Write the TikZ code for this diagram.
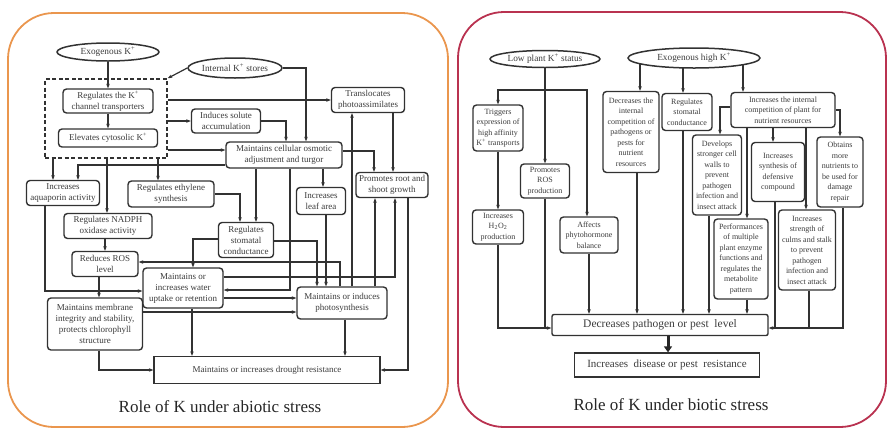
\documentclass[tikz,border=0pt]{standalone}
\usepackage{fontspec}
\setmainfont{Liberation Serif}
\usetikzlibrary{arrows.meta,backgrounds,shapes.geometric}
\definecolor{lc}{RGB}{50,50,50}
\definecolor{tc}{RGB}{60,60,60}
\definecolor{orangeframe}{RGB}{234,150,78}
\definecolor{redframe}{RGB}{185,50,80}
\newcommand{\Kp}{K\textsuperscript{+}}
\begin{document}
\begin{tikzpicture}[x=1pt,y=-1pt,
  bx/.style={draw=lc, line width=1.4pt, rounded corners=3.5pt, fill=white, align=center, inner sep=1pt, text=tc},
  lf/.style={font=\fontsize{9}{11}\selectfont},
  rf/.style={font=\fontsize{8}{10.5}\selectfont},
  ell/.style={ellipse, draw=lc, line width=1.5pt, fill=white, inner sep=0pt, text=tc, font=\fontsize{9.3}{11}\selectfont},
  sq/.style={draw=lc, line width=1.3pt, fill=white, align=center, inner sep=1pt, text=tc},
  arr/.style={draw=lc, line width=1.2pt, -{Stealth[length=4.5pt,width=3.5pt]}},
  ln/.style={draw=lc, line width=1.2pt},
  frame/.style={line width=1.8pt, rounded corners=46pt},
  ttl/.style={font=\fontsize{17}{20}\selectfont, text=black!85}
]
\useasboundingbox (0,0) rectangle (889,432);

% ---------- left panel nodes ----------
\node[ell, minimum width=102pt, minimum height=18pt] (exo) at (108,52) {Exogenous \Kp};
\node[ell, minimum width=94pt, minimum height=20pt] (int) at (235,68) {Internal \Kp{} stores};
\node[draw=lc, line width=1.5pt, dash pattern=on 4pt off 2.5pt, minimum width=122pt, minimum height=79pt, inner sep=0pt] (grp) at (106,118.5) {};
\node[bx,lf,minimum width=90pt,minimum height=24pt] (regk) at (108,101) {Regulates the \Kp\\channel transporters};
\node[bx,lf,minimum width=99pt,minimum height=18pt] (elev) at (108,138) {Elevates cytosolic \Kp};
\node[bx,lf,minimum width=73pt,minimum height=25pt] (trans) at (368,100) {Translocates\\photoassimilates};
\node[bx,lf,minimum width=69pt,minimum height=24pt] (ind) at (226,121) {Induces solute\\accumulation};
\node[bx,lf,minimum width=116pt,minimum height=26pt] (osm) at (284,155) {Maintains cellular osmotic\\adjustment and turgor};
\node[bx,lf,minimum width=73pt,minimum height=25pt] (aqua) at (63,193) {Increases\\aquaporin activity};
\node[bx,lf,minimum width=86pt,minimum height=26pt] (eth) at (171,194) {Regulates ethylene\\synthesis};
\node[bx,lf,minimum width=88pt,minimum height=25pt] (nadph) at (108,226) {Regulates NADPH\\oxidase activity};
\node[bx,lf,minimum width=66pt,minimum height=25pt] (ros) at (105,264) {Reduces ROS\\level};
\node[bx,lf,minimum width=55pt,minimum height=35pt] (stom) at (246,240) {Regulates\\stomatal\\conductance};
\node[bx,lf,minimum width=49pt,minimum height=27pt] (leaf) at (321,201) {Increases\\leaf area};
\node[bx,lf,minimum width=72pt,minimum height=25pt] (root) at (392,185) {Promotes root and\\shoot growth};
\node[bx,lf,minimum width=80pt,minimum height=40pt] (water) at (183,288) {Maintains or\\increases water\\uptake or retention};
\node[bx,lf,minimum width=90pt,minimum height=32pt] (photo) at (342,303) {Maintains or induces\\photosynthesis};
\node[bx,lf,minimum width=95pt,minimum height=52pt] (memb) at (95,324) {Maintains membrane\\integrity and stability,\\protects chlorophyll\\structure};
\node[sq,lf,minimum width=226pt,minimum height=27pt] (drought) at (267,370) {Maintains or increases drought resistance};
\node[ttl] (t1) at (220,407) {Role of K under abiotic stress};

% ---------- right panel nodes ----------
\node[ell, minimum width=110pt, minimum height=17pt] (lowk) at (545,59) {Low plant \Kp{} status};
\node[ell, minimum width=132pt, minimum height=20pt] (exoh) at (694,58) {Exogenous high \Kp};
\node[bx,rf,minimum width=50pt,minimum height=46pt] (trig) at (498,128) {Triggers\\expression of\\high affinity\\\Kp{} transports};
\node[bx,rf,minimum width=49pt,minimum height=34pt] (ros2) at (545,181) {Promotes\\ROS\\production};
\node[bx,rf,minimum width=51pt,minimum height=34pt] (h2o2) at (498,227) {Increases\\H\textsubscript{2}O\textsubscript{2}\\production};
\node[bx,rf,minimum width=58pt,minimum height=36pt] (aff) at (589,235) {Affects\\phytohormone\\balance};
\node[bx,rf,minimum width=56pt,minimum height=81pt] (dcomp) at (631,132) {Decreases the\\internal\\competition of\\pathogens or\\pests for\\nutrient\\resources};
\node[bx,rf,minimum width=50pt,minimum height=37pt] (rstom) at (687,112) {Regulates\\stomatal\\conductance};
\node[bx,rf,minimum width=104pt,minimum height=35pt] (comp) at (783,110) {Increases the internal\\competition of plant for\\nutrient resources};
\node[bx,rf,minimum width=49pt,minimum height=80pt] (dev) at (717,175) {Develops\\stronger cell\\walls to\\prevent\\pathogen\\infection and\\insect attack};
\node[bx,rf,minimum width=53pt,minimum height=59pt] (syn) at (778,172) {Increases\\synthesis of\\defensive\\compound};
\node[bx,rf,minimum width=46pt,minimum height=70pt] (obt) at (840,172) {Obtains\\more\\nutrients to\\be used for\\damage\\repair};
\node[bx,rf,minimum width=54pt,minimum height=80pt] (perf) at (741,259) {Performances\\of multiple\\plant enzyme\\functions and\\regulates the\\metabolite\\pattern};
\node[bx,rf,minimum width=57pt,minimum height=80pt] (str) at (807,250) {Increases\\strength of\\culms and stalk\\to prevent\\pathogen\\infection and\\insect attack};
\node[bx,font=\fontsize{11.5}{13}\selectfont, rounded corners=2pt, minimum width=216pt,minimum height=21pt] (path) at (660,325) {Decreases pathogen or pest\ \ level};
\node[sq,font=\fontsize{11}{13}\selectfont,minimum width=185pt,minimum height=24pt] (dis) at (667,365) {Increases\ \ disease or pest\ \ resistance};
\node[ttl] (t2) at (671,405) {Role of K under biotic stress};

\begin{scope}[on background layer]
\draw[frame, draw=orangeframe] (8,13) rectangle (448,427);
\draw[frame, draw=redframe] (458,12) rectangle (886,427);

% ---------- left connectors ----------
\draw[arr] (exo.south) -- (exo.south |- regk.north);
\draw[arr] (regk.south) -- (regk.south |- elev.north);
\draw[arr] (int.west) -- (grp.north east);
\draw[arr] (int.east) -| (306,0 |- osm.north);
\draw[arr] (grp.east |- trans.west) -- (trans.west);
\draw[arr] (grp.east |- ind.west) -- (ind.west);
\draw[arr] (ind.east) -| (286,0 |- osm.north);
\draw[arr] (grp.east |- 0,150) -- (osm.west |- 0,150);
\draw[arr] (53,0 |- grp.south) -- (53,0 |- aqua.north);
\draw[arr] (osm.west |- 0,165) -| (78,0 |- aqua.north);
\draw[arr] (107,0 |- grp.south) -- (107,0 |- nadph.north);
\draw[arr] (158,0 |- grp.south) -- (158,0 |- eth.north);
\draw[arr] (105,0 |- nadph.south) -- (105,0 |- ros.north);
\draw[arr] (eth.east) -| (240,0 |- stom.north);
\draw[arr] (256,0 |- osm.south) -- (256,0 |- stom.north);
\draw[arr] (290,0 |- osm.south) |- (water.east |- 0,290);
\draw[arr] (323,0 |- osm.south) -- (323,0 |- leaf.north);
\draw[arr] (osm.east |- 0,151) -| (374,0 |- root.north);
\draw[arr] (393,0 |- trans.south) -- (393,0 |- root.north);
\draw[arr] (352,0 |- photo.north) -- (352,0 |- trans.south);
\draw[arr] (375,0 |- photo.north) -- (375,0 |- root.south);
\draw[arr] (340,0 |- photo.north) |- (ros.east |- 0,262);
\draw[arr] (stom.east |- 0,241) -| (317,0 |- photo.north);
\draw[arr] (stom.west |- 0,239) -| (193,0 |- water.north);
\draw[arr] (326,0 |- leaf.south) -- (326,0 |- photo.north);
\draw[arr] (water.east |- 0,277) -| (395,0 |- root.south);
\draw[arr] (water.east |- 0,298) -- (photo.west |- 0,298);
\draw[arr] (memb.east |- 0,312) -- (photo.west |- 0,312);
\draw[arr] (408,0 |- root.south) |- (drought.east);
\draw[arr] (45,0 |- aqua.south) |- (water.west |- 0,291);
\draw[arr] (99,0 |- ros.south) -- (99,0 |- memb.north);
\draw[arr] (99,0 |- memb.south) |- (drought.west);
\draw[arr] (192,0 |- water.south) -- (192,0 |- drought.north);
\draw[arr] (345,0 |- photo.south) -- (345,0 |- drought.north);

% ---------- right connectors ----------
\draw[arr] (lowk.south) -- (lowk.south |- ros2.north);
\draw[arr] (lowk.south |- 0,90) -| (trig.north);
\draw[arr] (lowk.south |- 0,90) -| (587,0 |- aff.north);
\draw[arr] (trig.south) -- (h2o2.north);
\draw[arr] (h2o2.south) |- (path.west |- 0,328);
\draw[ln] (ros2.south) -- (ros2.south |- 0,328);
\draw[arr] (aff.south) -- (aff.south |- path.north);
\draw[arr] (637,0 |- dcomp.south) -- (637,0 |- path.north);
\draw[arr] (640,0 |- exoh.center) -- (640,0 |- dcomp.north);
\draw[arr] (683,0 |- exoh.center) -- (683,0 |- rstom.north);
\draw[arr] (743,0 |- exoh.center) -- (743,0 |- comp.north);
\draw[arr] (683,0 |- rstom.south) -- (683,0 |- path.north);
\draw[arr] (comp.west |- 0,107) -| (720,0 |- dev.north);
\draw[arr] (747,0 |- comp.south) -- (747,0 |- perf.north);
\draw[arr] (773,0 |- comp.south) -- (773,0 |- syn.north);
\draw[arr] (806,0 |- comp.south) -- (806,0 |- str.north);
\draw[arr] (comp.east |- 0,110) -| (840,0 |- obt.north);
\draw[arr] (709,0 |- dev.south) -- (709,0 |- path.north);
\draw[arr] (747,0 |- perf.south) -- (747,0 |- path.north);
\draw[arr] (843,0 |- obt.south) |- (path.east |- 0,328);
\draw[ln] (775,0 |- syn.south) -- (775,0 |- 0,328);
\draw[ln] (809,0 |- str.south) -- (809,0 |- 0,328);
\draw[draw=black!85, line width=3pt, -{Triangle[length=6pt,width=8pt]}] (668,0 |- path.south) -- (668,0 |- dis.north);
\end{scope}
\end{tikzpicture}
\end{document}
